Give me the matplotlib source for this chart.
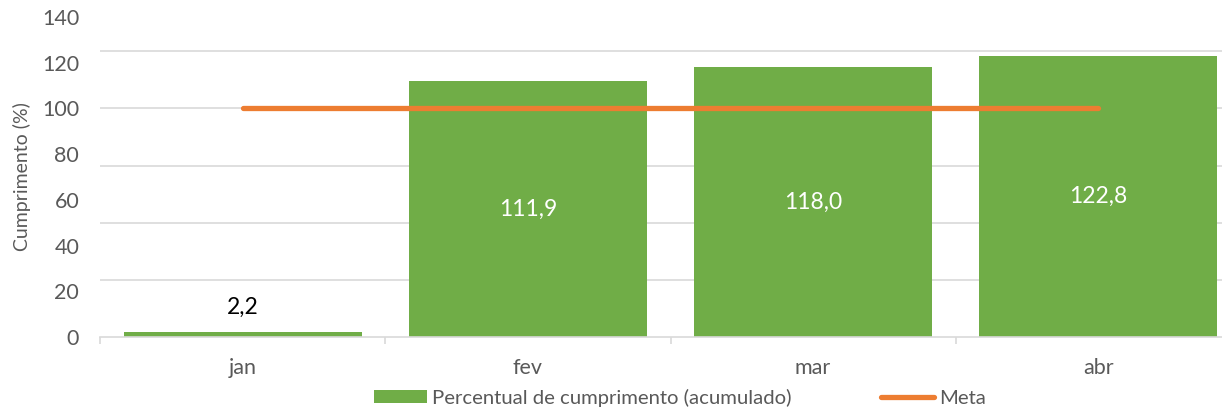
import matplotlib
matplotlib.use("Agg")
import matplotlib.pyplot as plt
from matplotlib.lines import Line2D
from matplotlib.patches import Patch

categories = ["jan", "fev", "mar", "abr"]
cumprimento = [2.2, 111.9, 118.0, 122.8]
meta = [100, 100, 100, 100]
labels = ["2,2", "111,9", "118,0", "122,8"]
yticks = [0, 20, 40, 60, 80, 100, 120, 140]
gridvals = [25, 50, 75, 100, 125]

GREEN = "#70AD47"
ORANGE = "#ED7D31"
GRID = "#D9D9D9"
TXT = "#595959"

plt.rcParams['font.family'] = ['Lato', 'DejaVu Sans']

W, H = 1222, 408
fig = plt.figure(figsize=(W / 100, H / 100), dpi=100)
left, right, bottom, top = 100, 1241, 337, 17
ax = fig.add_axes([left / W, 1 - bottom / H, (right - left) / W, (bottom - top) / H])

x = list(range(len(categories)))
ax.set_xlim(-0.5, 3.5)
ax.set_ylim(0, 140)

for g in gridvals:
    ax.axhline(g, color=GRID, lw=1.2, zorder=0)

ax.bar(x, cumprimento, width=0.834, color=GREEN, zorder=2)
ax.plot(x, meta, color=ORANGE, lw=3.8, solid_capstyle='round', zorder=3)

for i, (v, lab) in enumerate(zip(cumprimento, labels)):
    if v < 20:
        ax.annotate(lab, (i, v), xytext=(0, 25), textcoords='offset pixels',
                    ha='center', va='center', fontsize=16.5, color='black', zorder=4)
    else:
        ax.text(i, v / 2, lab, ha='center', va='center', fontsize=16.5,
                color='white', zorder=4)

for s in ['left', 'right', 'top']:
    ax.spines[s].set_visible(False)
ax.spines['bottom'].set_color(GRID)
ax.spines['bottom'].set_linewidth(1.2)

ax.set_yticks(yticks)
ax.set_yticklabels([str(t) for t in yticks])
ax.tick_params(axis='y', length=0, labelsize=15.5, labelcolor=TXT, pad=15)
ax.set_xticks(x)
ax.set_xticklabels(categories)
ax.tick_params(axis='x', which='major', length=0, labelsize=15.5, labelcolor=TXT, pad=15)
ax.set_xticks([-0.5, 0.5, 1.5, 2.5, 3.5], minor=True)
ax.tick_params(axis='x', which='minor', length=5, color=GRID, width=1.2)

fig.text(22 / W, 1 - 177 / H, "Cumprimento (%)", rotation=90, ha='center', va='center',
         fontsize=14, color=TXT)

handles = [Patch(facecolor=GREEN, edgecolor='none'),
           Line2D([0], [0], color=ORANGE, lw=3.8, solid_capstyle='round')]
fig.legend(handles, ["Percentual de cumprimento (acumulado)", "Meta"],
           loc='center', bbox_to_anchor=(680 / W, 1 - 398 / H), ncol=2, frameon=False,
           fontsize=14.6, labelcolor=TXT, handlelength=2.6, handleheight=0.6,
           handletextpad=0.25, columnspacing=4.4, borderpad=0, borderaxespad=0)

fig.savefig("out.png", dpi=100)
